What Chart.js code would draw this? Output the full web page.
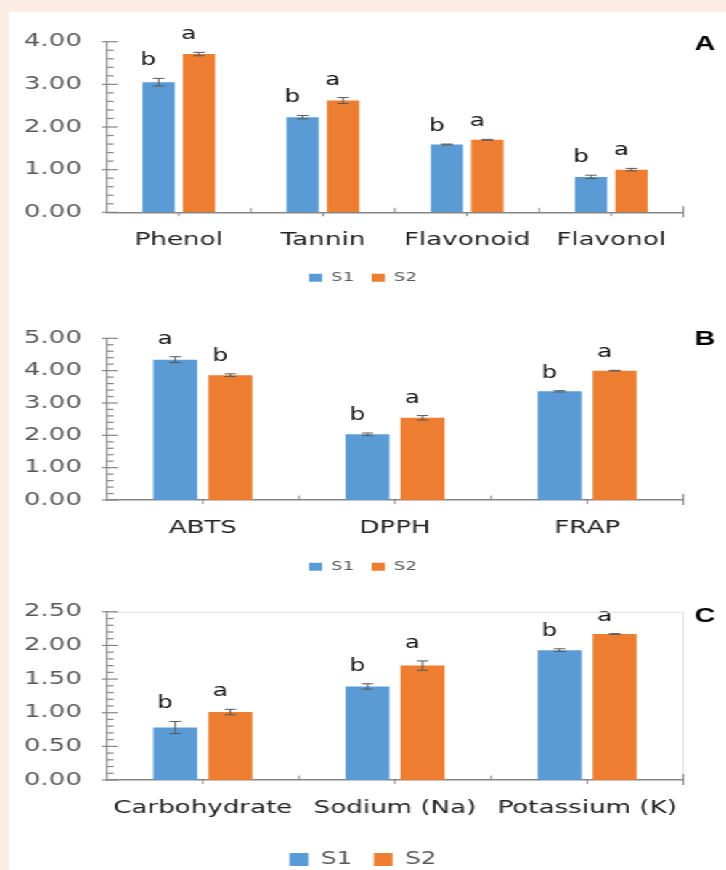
<!DOCTYPE html>
<html>
<head>
<meta charset="utf-8">
<script src="https://cdn.jsdelivr.net/npm/chart.js@4"></script>
<style>
html,body{margin:0;padding:0;overflow:hidden;background:#fbede3;}
/* the source figure is stretched sideways, so lay out at 500px and stretch */
#page{position:relative;width:500px;height:870px;transform:scaleX(1.452);transform-origin:0 0;}
#panel{position:absolute;left:5.5px;top:12px;right:0;bottom:0;background:#fff;}
canvas{position:absolute;left:0;}
</style>
</head>
<body>
<div id="page">
  <div id="panel"></div>
  <canvas id="cA" width="500" height="282" style="top:12px"></canvas>
  <canvas id="cB" width="500" height="283" style="top:300px"></canvas>
  <canvas id="cC" width="500" height="294" style="top:584px"></canvas>
</div>
<script>
// ---- data ----
const catsA = ['Phenol', 'Tannin', 'Flavonoid', 'Flavonol'];
const s1A = [3.05, 2.23, 1.59, 0.83];
const s2A = [3.71, 2.62, 1.70, 1.00];
const e1A = [0.09, 0.04, 0.01, 0.04];
const e2A = [0.04, 0.07, 0.01, 0.03];
const l1A = ['b', 'b', 'b', 'b'];
const l2A = ['a', 'a', 'a', 'a'];

const catsB = ['ABTS', 'DPPH', 'FRAP'];
const s1B = [4.34, 2.03, 3.36];
const s2B = [3.86, 2.54, 4.00];
const e1B = [0.09, 0.04, 0.02];
const e2B = [0.04, 0.07, 0.01];
const l1B = ['a', 'b', 'b'];
const l2B = ['b', 'a', 'a'];

const catsC = ['Carbohydrate', 'Sodium (Na)', 'Potassium (K)'];
const s1C = [0.78, 1.39, 1.93];
const s2C = [1.01, 1.70, 2.17];
const e1C = [0.09, 0.04, 0.02];
const e2C = [0.04, 0.07, 0.005];
const l1C = ['b', 'b', 'b'];
const l2C = ['a', 'a', 'a'];

const seriesNames = ['S1', 'S2'];
const seriesColors = ['#5b9bd5', '#ed7d31'];

const AXIS_X = 73.5;   // y axis position (layout px)
const RIGHT_GAP = 29.4;

// error bars, letters, tick marks, panel label
const extras = {
    id: 'extras',
    afterDatasetsDraw(chart, args, o){
        const ctx = chart.ctx, ys = chart.scales.y;
        ctx.save();
        chart.data.datasets.forEach((ds, di)=>{
            chart.getDatasetMeta(di).data.forEach((bar, i)=>{
                const v = ds.data[i], e = o.errors[di][i];
                const yt = ys.getPixelForValue(v + e), yb = ys.getPixelForValue(v - e);
                ctx.strokeStyle = '#595959';
                ctx.lineWidth = 1;
                ctx.beginPath();
                ctx.moveTo(bar.x, yt); ctx.lineTo(bar.x, yb);
                ctx.moveTo(bar.x - 4, yt); ctx.lineTo(bar.x + 4, yt);
                ctx.moveTo(bar.x - 4, yb); ctx.lineTo(bar.x + 4, yb);
                ctx.stroke();
                ctx.fillStyle = '#111';
                ctx.font = '17px "DejaVu Sans"';
                ctx.textAlign = 'center';
                ctx.textBaseline = 'alphabetic';
                ctx.fillText(o.letters[di][i], bar.x - 7, yt - 13);
            });
        });
        ctx.restore();
    },
    afterDraw(chart, args, o){
        const ctx = chart.ctx, ys = chart.scales.y, a = chart.chartArea;
        ctx.save();
        if(o.frame){
            ctx.strokeStyle = '#e2e2e2'; ctx.lineWidth = 1;
            ctx.beginPath();
            ctx.moveTo(a.left, a.top + 0.5); ctx.lineTo(a.right, a.top + 0.5); ctx.lineTo(a.right, a.bottom);
            ctx.stroke();
        }
        ctx.strokeStyle = '#868686';
        // y ticks: major crossing, minor inside
        ctx.lineWidth = 1.2;
        const nMinor = Math.round(ys.max / o.minor);
        const per = Math.round(o.step / o.minor);
        for(let k = 0; k <= nMinor; k++){
            const py = ys.getPixelForValue(k * o.minor);
            ctx.beginPath();
            if(k % per === 0){ ctx.moveTo(a.left - 3.4, py); ctx.lineTo(a.left + 7.6, py); }
            else { ctx.moveTo(a.left, py); ctx.lineTo(a.left + 4.8, py); }
            ctx.stroke();
        }
        // x ticks: boundaries up, centres down
        ctx.lineWidth = 1;
        const n = chart.data.labels.length, w = (a.right - a.left) / n, by = a.bottom;
        for(let k = 1; k <= n; k++){
            const bx = a.left + k * w, cx = a.left + (k - 0.5) * w;
            ctx.beginPath();
            if(k === n){ ctx.moveTo(bx, by - 6); ctx.lineTo(bx, by + 5); }
            else { ctx.moveTo(bx, by - 4.5); ctx.lineTo(bx, by); }
            ctx.moveTo(cx, by); ctx.lineTo(cx, by + 4);
            ctx.stroke();
        }
        // panel letter
        ctx.fillStyle = '#000';
        ctx.font = 'bold 20px "Liberation Sans"';
        ctx.textAlign = 'center';
        ctx.textBaseline = 'alphabetic';
        ctx.fillText(o.panel, 485.5, a.top + o.panelDy);
        ctx.restore();
    }
};

function makeChart(id, cfg){
    const datasets = [cfg.s1, cfg.s2].map((d, i)=>({
        label: seriesNames[i],
        data: d,
        backgroundColor: seriesColors[i],
        borderWidth: 0,
        categoryPercentage: cfg.catPct,
        barPercentage: 0.8
    }));
    return new Chart(document.getElementById(id), {
        type: 'bar',
        data: { labels: cfg.cats, datasets: datasets },
        options: {
            responsive: false,
            animation: false,
            devicePixelRatio: 1,
            layout: { padding: { top: cfg.padTop, left: 0, right: 0, bottom: 0 } },
            plugins: {
                tooltip: { enabled: false },
                legend: {
                    position: 'bottom',
                    labels: {
                        color: '#595959',
                        font: { family: 'DejaVu Sans', size: cfg.legFont },
                        boxWidth: cfg.box[0], boxHeight: cfg.box[1],
                        padding: cfg.legPad
                    }
                },
                extras: {
                    errors: [cfg.e1, cfg.e2],
                    letters: [cfg.l1, cfg.l2],
                    step: cfg.step, minor: cfg.minor,
                    panel: cfg.panel, panelDy: cfg.panelDy,
                    frame: !!cfg.frame
                }
            },
            scales: {
                x: {
                    grid: { display: false, drawTicks: false },
                    border: { display: true, color: '#868686', width: 1.5 },
                    ticks: { color: '#222', font: { family: 'DejaVu Sans', size: 18 }, padding: 17.5, maxRotation: 0, autoSkip: false },
                    afterFit(s){ s.height = cfg.axisH; }
                },
                y: {
                    min: 0, max: cfg.max,
                    grid: { display: false, drawTicks: false },
                    border: { display: true, color: '#868686', width: 1.2 },
                    ticks: { stepSize: cfg.step, color: '#595959', font: { family: 'DejaVu Sans', size: 18 }, padding: 17,
                        callback: v => Number(v).toFixed(2) },
                    afterFit(s){ s.width = AXIS_X; }
                },
                // empty right-hand axis: keeps the room right of the plot (and centres the legend)
                y2: {
                    position: 'right',
                    grid: { display: false, drawTicks: false },
                    border: { display: false },
                    ticks: { display: false },
                    afterFit(s){ s.width = RIGHT_GAP; }
                }
            }
        },
        plugins: [extras]
    });
}

makeChart('cA', { cats: catsA, s1: s1A, s2: s2A, e1: e1A, e2: e2A, l1: l1A, l2: l2A,
    max: 4, step: 1, minor: 0.2, catPct: 0.56, padTop: 29.7, axisH: 47.2,
    legFont: 12.5, box: [9, 8], legPad: 12, panel: 'A', panelDy: 8.3 });
makeChart('cB', { cats: catsB, s1: s1B, s2: s2B, e1: e1B, e2: e2B, l1: l1B, l2: l2B,
    max: 5, step: 1, minor: 0.2, catPct: 0.573, padTop: 38.3, axisH: 48.5,
    legFont: 12.5, box: [9, 8], legPad: 12, panel: 'B', panelDy: 6.7 });
makeChart('cC', { cats: catsC, s1: s1C, s2: s2C, e1: e1C, e2: e2C, l1: l1C, l2: l2C,
    max: 2.5, step: 0.5, minor: 0.1, catPct: 0.573, padTop: 27.7, axisH: 56,
    legFont: 17, box: [13, 13], legPad: 15, panel: 'C', panelDy: 10.3, frame: true });
</script>
</body>
</html>
